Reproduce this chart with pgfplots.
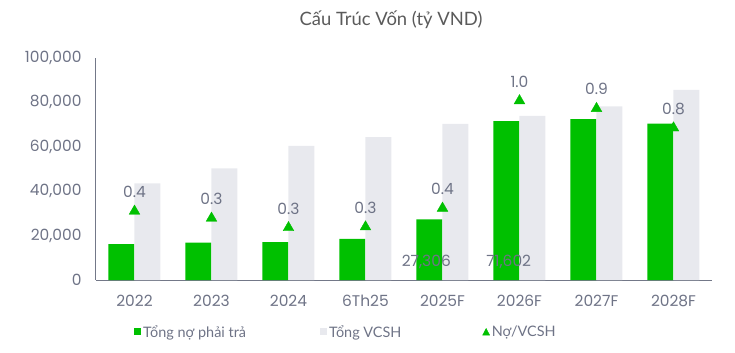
\documentclass[border=0pt]{standalone}
\usepackage{fontspec}
\setmainfont{Lato}
\newfontfamily\numfont{Poppins}
\usepackage{pgfplots}
\pgfplotsset{compat=1.18}
\definecolor{grn}{HTML}{00C000}
\definecolor{lgray}{HTML}{E8E9EE}
\definecolor{txt}{HTML}{6E7386}
\definecolor{axc}{HTML}{737888}
\definecolor{ttl}{HTML}{5A5A5A}
\begin{document}
\begin{tikzpicture}
\path[use as bounding box] (-96bp,-73bp) rectangle (639bp,280bp);
\node[font=\fontsize{18.5}{21}\selectfont, text=ttl] at (295bp,260bp) {Cấu Trúc Vốn (tỷ VND)};
\begin{axis}[
  at={(0,0)}, anchor=south west,
  scale only axis, width=616bp, height=222bp,
  xmin=-0.5, xmax=7.5, ymin=0, ymax=100000,
  axis x line*=bottom, axis y line*=left,
  axis line style={axc, line width=1bp, -},
  xtick={0,...,7},
  xticklabels={2022,2023,2024,6Th25,2025F,2026F,2027F,2028F},
  ytick={0,20000,40000,60000,80000,100000},
  major tick length=0pt,
  scaled y ticks=false,
  /pgf/number format/assume math mode=true,
  yticklabel style={/pgf/number format/.cd, 1000 sep={,}, fixed, /tikz/.cd, xshift=-11bp},
  xticklabel style={yshift=-12bp},
  tick label style={font=\numfont\fontsize{15.5}{17}\selectfont, text=txt},
  legend columns=3,
  legend style={draw=none, fill=none, at={(0.0568,-0.234)}, anchor=west,
    font=\fontsize{14.5}{17}\selectfont, text=txt,
    /tikz/every even column/.append style={column sep=72bp}},
  legend cell align=left,
]
\addplot[ybar, bar width=26bp, bar shift=-13bp, fill=grn, draw=none,
  legend image code/.code={\fill[grn] (0bp,-3.5bp) rectangle (7bp,3.5bp);}]
  coordinates {(0,16200) (1,16800) (2,17100) (3,18500) (4,27306) (5,71602) (6,72500) (7,70400)};
\addlegendentry{Tổng nợ phải trả}
\addplot[ybar, bar width=26bp, bar shift=13bp, fill=lgray, draw=none,
  legend image code/.code={\fill[lgray] (0bp,-3.5bp) rectangle (7bp,3.5bp);}]
  coordinates {(0,43500) (1,50300) (2,60400) (3,64400) (4,70300) (5,73900) (6,78200) (7,85600)};
\addlegendentry{Tổng VCSH\rule{7bp}{0pt}}
\addlegendimage{legend image code/.code={\fill[grn] (0bp,-3.2bp) -- (7bp,-3.2bp) -- (3.5bp,3.5bp) -- cycle;}}
\addlegendentry{Nợ/VCSH}
\addplot[draw=none, mark=none, forget plot, nodes near coords, point meta=explicit symbolic,
  nodes near coords style={font=\numfont\fontsize{15.5}{17}\selectfont, text=txt, anchor=center, yshift=18bp}]
  table[meta=lbl] {
x y lbl
3.79 0 27,306
4.86 0 71,602
};
\end{axis}
\begin{axis}[
  at={(0,0)}, anchor=south west,
  scale only axis, width=616bp, height=222bp,
  xmin=-0.5, xmax=7.5, ymin=0, ymax=1.2,
  hide axis,
]
\addplot[only marks, mark=triangle*, mark size=6.2pt, color=grn,
  nodes near coords,
  nodes near coords style={font=\numfont\fontsize{15.5}{17}\selectfont, text=txt, yshift=10bp,
    /pgf/number format/.cd, fixed, fixed zerofill, precision=1, assume math mode=true}]
  coordinates {(0,0.372) (1,0.334) (2,0.283) (3,0.287) (4,0.388) (5,0.969) (6,0.927) (7,0.822)};
\end{axis}
\end{tikzpicture}
\end{document}
